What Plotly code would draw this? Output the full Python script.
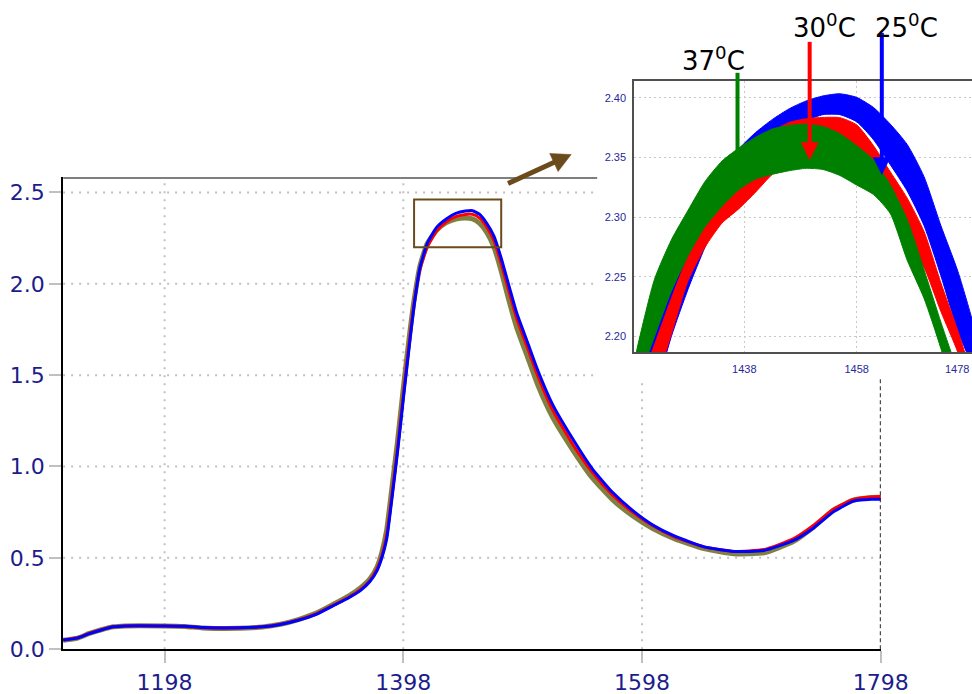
import math
import plotly.graph_objects as go

# ---------------- data: main spectra ----------------
wavelength = [1113, 1125, 1135, 1145, 1155, 1165, 1198, 1215, 1230, 1260, 1280, 1295, 1310, 1325,
              1340, 1352, 1362, 1370, 1376, 1380, 1384, 1388, 1393, 1398, 1403, 1407, 1412, 1418,
              1426, 1434, 1442, 1450, 1456, 1462, 1468, 1474, 1480, 1486, 1493, 1502, 1511, 1523,
              1540, 1556, 1573, 1590, 1607, 1625, 1650, 1675, 1700, 1725, 1742, 1758, 1775, 1790, 1798]
absorb_25 = [0.05, 0.06, 0.085, 0.105, 0.122, 0.127, 0.127, 0.125, 0.118, 0.117, 0.122, 0.135, 0.158, 0.19,
             0.24, 0.28, 0.32, 0.37, 0.43, 0.50, 0.60, 0.80, 1.07, 1.37, 1.66, 1.88, 2.09, 2.22,
             2.31, 2.355, 2.385, 2.398, 2.40, 2.38, 2.33, 2.26, 2.14, 2.00, 1.84, 1.68, 1.52, 1.34,
             1.15, 0.99, 0.86, 0.76, 0.68, 0.62, 0.56, 0.535, 0.54, 0.595, 0.665, 0.75, 0.81, 0.82, 0.82]
absorb_30 = [0.05, 0.062, 0.087, 0.107, 0.123, 0.127, 0.126, 0.124, 0.117, 0.116, 0.122, 0.136, 0.16, 0.193,
             0.243, 0.283, 0.325, 0.375, 0.44, 0.51, 0.62, 0.82, 1.09, 1.39, 1.68, 1.89, 2.08, 2.20,
             2.29, 2.34, 2.368, 2.38, 2.38, 2.36, 2.31, 2.235, 2.11, 1.97, 1.81, 1.65, 1.49, 1.31,
             1.12, 0.97, 0.845, 0.75, 0.675, 0.615, 0.56, 0.535, 0.545, 0.605, 0.68, 0.765, 0.82, 0.833, 0.835]
absorb_37 = [0.048, 0.06, 0.086, 0.106, 0.122, 0.127, 0.127, 0.124, 0.116, 0.114, 0.121, 0.136, 0.162, 0.197,
             0.248, 0.29, 0.335, 0.385, 0.45, 0.53, 0.65, 0.86, 1.13, 1.43, 1.71, 1.91, 2.10, 2.22,
             2.295, 2.335, 2.355, 2.36, 2.355, 2.33, 2.28, 2.20, 2.07, 1.92, 1.76, 1.60, 1.44, 1.27,
             1.09, 0.94, 0.82, 0.73, 0.66, 0.605, 0.55, 0.522, 0.527, 0.59, 0.67, 0.76, 0.815, 0.83, 0.832]

x_ticks = [1198, 1398, 1598, 1798]
y_ticks = [0.0, 0.5, 1.0, 1.5, 2.0, 2.5]
y_tick_text = ["0.0", "0.5", "1.0", "1.5", "2.0", "2.5"]

# ---------------- data: zoomed inset (band edges) ----------------
inset_x = [1416, 1419, 1422, 1425, 1428, 1431, 1434, 1437, 1440, 1443, 1446, 1449,
           1452, 1455, 1458, 1461, 1464, 1467, 1470, 1473, 1476, 1479, 1482]
blue_upper = [2.10, 2.16, 2.201, 2.240, 2.275, 2.309, 2.336, 2.357, 2.371, 2.382, 2.391, 2.3975,
              2.4017, 2.4035, 2.4005, 2.392, 2.378, 2.361, 2.334, 2.293, 2.255, 2.207, 2.15]
blue_lower = [2.05, 2.10, 2.15, 2.20, 2.24, 2.275, 2.305, 2.33, 2.348, 2.362, 2.373, 2.381,
              2.386, 2.386, 2.380, 2.365, 2.344, 2.322, 2.293, 2.251, 2.205, 2.17, 2.12]
red_upper = [2.09, 2.155, 2.193, 2.232, 2.268, 2.300, 2.325, 2.345, 2.362, 2.372, 2.3795, 2.3825,
             2.3837, 2.3835, 2.3775, 2.360, 2.338, 2.316, 2.288, 2.245, 2.205, 2.16, 2.11]
red_lower = [2.06, 2.11, 2.157, 2.202, 2.247, 2.275, 2.295, 2.307, 2.321, 2.336, 2.345, 2.350,
             2.352, 2.349, 2.340, 2.325, 2.305, 2.281, 2.258, 2.221, 2.187, 2.14, 2.09]
green_upper = [2.125, 2.192, 2.248, 2.281, 2.306, 2.330, 2.347, 2.358, 2.367, 2.374, 2.377, 2.378,
               2.376, 2.370, 2.360, 2.348, 2.327, 2.298, 2.256, 2.212, 2.170, 2.12, 2.07]
green_lower = [2.105, 2.160, 2.200, 2.238, 2.268, 2.292, 2.309, 2.323, 2.332, 2.336, 2.339, 2.341,
               2.340, 2.335, 2.327, 2.319, 2.303, 2.264, 2.232, 2.190, 2.14, 2.09, 2.04]

inset_x_ticks = [1438, 1458]
inset_x_edge_tick = 1478          # last inset tick, label kept inside the picture
inset_y_ticks = [2.20, 2.25, 2.30, 2.35, 2.40]

temp_labels = ["25<sup>0</sup>C", "30<sup>0</sup>C", "37<sup>0</sup>C"]

# ---------------- layout constants ----------------
W, H = 972, 694           # reference frame used for placing decorations
FIG_W, FIG_H = 1002, 705  # rendered figure size (page is photographed slightly larger)
MAIN_X_RANGE = [1113, 1798]
MAIN_Y_RANGE = [0, 2.582]
INSET_X_RANGE = [1418.4, 1478.9]
INSET_Y_RANGE = [2.187, 2.414]
CUT_X = 1560.4   # main-chart x where the inset panel begins
CUT_Y = 1.479    # main-chart y where the inset panel ends
ZOOM_BOX = dict(x0=1407, x1=1480, y0=2.20, y1=2.462)

BLUE, RED, GREEN, OLIVE = "#0000ff", "#ff0000", "#008000", "#808040"
BROWN = "#6b4a1c"
TICK_BLUE = "#1c1c8c"
INSET_TICK = "#28289a"
GRID = "#c0c0c0"
INSET_GRID = "#c8c8c8"


def pxx(x):
    return x / W


def pxy(y):
    return (H - y) / H


def arrow_shapes(tail, tip, color, width, head_len, head_w):
    """Shaft + filled triangular head, given in page pixels, returned in paper coords."""
    dx, dy = tip[0] - tail[0], tip[1] - tail[1]
    n = math.hypot(dx, dy)
    ux, uy = dx / n, dy / n
    bx, by = tip[0] - ux * head_len, tip[1] - uy * head_len
    px_, py_ = -uy * head_w / 2, ux * head_w / 2
    shaft = dict(type="line", xref="paper", yref="paper",
                 x0=pxx(tail[0]), y0=pxy(tail[1]), x1=pxx(bx + ux * 1), y1=pxy(by + uy * 1),
                 line=dict(color=color, width=width))
    pts = [(tip[0], tip[1]), (bx + px_, by + py_), (bx - px_, by - py_)]
    path = "M " + " L ".join(f"{pxx(a):.5f},{pxy(b):.5f}" for a, b in pts) + " Z"
    head = dict(type="path", xref="paper", yref="paper", path=path,
                fillcolor=color, line=dict(color=color, width=0.5))
    return [shaft, head]


fig = go.Figure()

# main spectra
for ys, col, w in [(absorb_37, OLIVE, 5), (absorb_30, RED, 3), (absorb_25, BLUE, 3)]:
    fig.add_trace(go.Scatter(x=wavelength, y=ys, mode="lines",
                             line=dict(color=col, width=w, shape="spline", smoothing=0.5),
                             xaxis="x", yaxis="y", hoverinfo="skip", showlegend=False))

# inset bands
for up, lo, col in [(blue_upper, blue_lower, BLUE), (red_upper, red_lower, RED),
                    (green_upper, green_lower, GREEN)]:
    fig.add_trace(go.Scatter(x=inset_x + inset_x[::-1], y=up + lo[::-1], mode="lines",
                             fill="toself", fillcolor=col,
                             line=dict(color=col, width=1, shape="spline", smoothing=0.6),
                             xaxis="x2", yaxis="y2", hoverinfo="skip", showlegend=False))

shapes = []
for yv in y_ticks[1:]:
    shapes.append(dict(type="line", xref="x", yref="y", x0=MAIN_X_RANGE[0],
                       x1=MAIN_X_RANGE[1] if yv < CUT_Y else CUT_X, y0=yv, y1=yv,
                       line=dict(color=GRID, width=2, dash="2px,6px"), layer="below"))
for xv in x_ticks[:-1]:
    shapes.append(dict(type="line", xref="x", yref="y", x0=xv, x1=xv, y0=0,
                       y1=MAIN_Y_RANGE[1] if xv < CUT_X else CUT_Y,
                       line=dict(color=GRID, width=2, dash="2px,6px"), layer="below"))
shapes.append(dict(type="line", xref="x", yref="y", x0=MAIN_X_RANGE[0], x1=CUT_X,
                   y0=MAIN_Y_RANGE[1], y1=MAIN_Y_RANGE[1], line=dict(color="black", width=2)))
shapes.append(dict(type="line", xref="x", yref="y", x0=x_ticks[-1], x1=x_ticks[-1],
                   y0=0, y1=CUT_Y, line=dict(color="#222222", width=2, dash="4px,3px")))
shapes.append(dict(type="rect", xref="x", yref="y", line=dict(color=BROWN, width=2), **ZOOM_BOX))
# inset gridline for the edge tick
shapes.append(dict(type="line", xref="x2", yref="y2 domain", x0=inset_x_edge_tick,
                   x1=inset_x_edge_tick, y0=0, y1=1,
                   line=dict(color=INSET_GRID, width=1, dash="2px,3px"), layer="below"))

shapes += arrow_shapes((507, 184), (570, 155), BROWN, 5, 19, 20)
shapes += arrow_shapes((880, 33), (880, 175), BLUE, 4, 17, 17)
shapes += arrow_shapes((808, 42), (808, 160), RED, 4, 17, 17)
shapes += arrow_shapes((736, 73), (736, 182), GREEN, 4, 17, 17)

annotations = []
label_pos = [(905, 26), (823, 26), (712, 59)]
for txt, (lx, ly) in zip(temp_labels, label_pos):
    annotations.append(dict(xref="paper", yref="paper", x=pxx(lx), y=pxy(ly), text=txt,
                            showarrow=False, xanchor="center", yanchor="middle",
                            font=dict(family="DejaVu Sans", size=26, color="black")))
# edge tick label of the inset, kept inside the frame like in the original
annotations.append(dict(xref="x2", yref="paper", x=inset_x_edge_tick, y=pxy(370),
                        text=str(inset_x_edge_tick), showarrow=False, xanchor="right",
                        yanchor="middle", xshift=2,
                        font=dict(family="Liberation Sans", size=11, color=INSET_TICK)))

fig.update_layout(
    width=FIG_W, height=FIG_H, autosize=False,
    margin=dict(l=0, r=0, t=0, b=0),
    paper_bgcolor="white", plot_bgcolor="white",
    showlegend=False,
    xaxis=dict(domain=[pxx(63), pxx(879)], range=MAIN_X_RANGE, anchor="y",
               tickvals=x_ticks, ticks="outside", ticklen=12, tickwidth=2, tickcolor=GRID,
               showline=True, linecolor="black", linewidth=2, showgrid=False, zeroline=False,
               tickfont=dict(family="DejaVu Sans", size=22, color=TICK_BLUE)),
    yaxis=dict(domain=[pxy(651), pxy(178)], range=MAIN_Y_RANGE, anchor="x",
               tickvals=y_ticks, ticktext=y_tick_text, ticks="outside", ticklen=12, tickwidth=2,
               tickcolor=GRID, showline=True, linecolor="black", linewidth=2, showgrid=False,
               zeroline=False,
               tickfont=dict(family="DejaVu Sans", size=22, color=TICK_BLUE)),
    xaxis2=dict(domain=[pxx(633), 1.0], range=INSET_X_RANGE, anchor="y2",
                tickvals=inset_x_ticks, ticks="outside", ticklen=6, tickcolor="rgba(0,0,0,0)",
                showgrid=True, gridcolor=INSET_GRID, gridwidth=1, griddash="2px,3px",
                showline=True, mirror=True, linecolor="#505050", linewidth=2, zeroline=False,
                tickfont=dict(family="Liberation Sans", size=11, color=INSET_TICK)),
    yaxis2=dict(domain=[pxy(353), pxy(81.5)], range=INSET_Y_RANGE, anchor="x2",
                tickvals=inset_y_ticks, tickformat=".2f", ticks="outside", ticklen=4,
                tickcolor="rgba(0,0,0,0)",
                showgrid=True, gridcolor=INSET_GRID, gridwidth=1, griddash="2px,3px",
                showline=True, linecolor="#505050", linewidth=2, zeroline=False,
                tickfont=dict(family="Liberation Sans", size=11, color=INSET_TICK)),
    shapes=shapes,
    annotations=annotations,
)

fig.write_html(
    "out.html",
    config={"displayModeBar": False},
    post_script=(
        "document.body.style.margin='0';"
        "document.body.style.overflow='hidden';"
        "document.documentElement.style.overflow='hidden';"
    ),
)
